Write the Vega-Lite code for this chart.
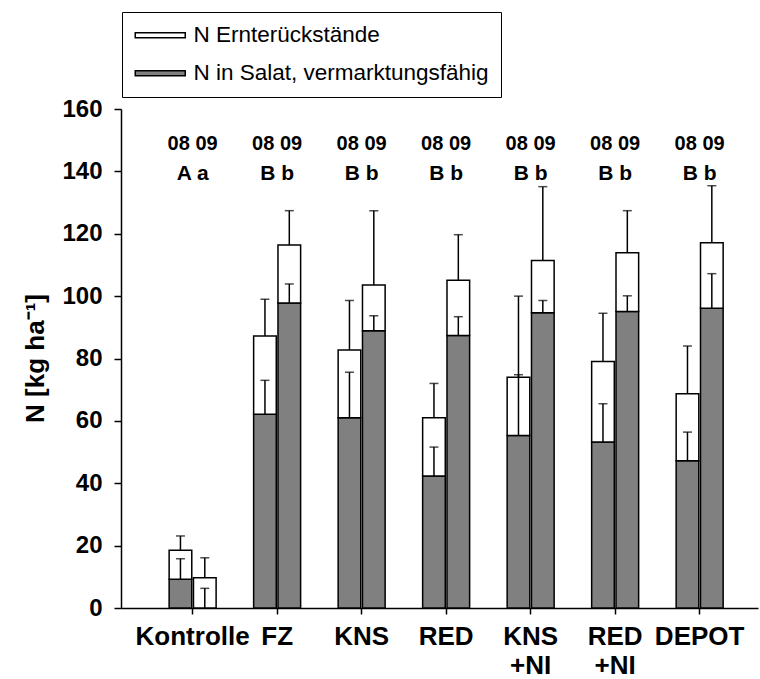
{
  "$schema": "https://vega.github.io/schema/vega-lite/v6.json",
  "width": 637,
  "height": 499,
  "autosize": {"type": "none"},
  "padding": {"left": 121, "top": 109, "right": 2, "bottom": 71},
  "background": "white",
  "config": {
    "font": "Liberation Sans",
    "view": {"stroke": null},
    "axis": {"grid": false, "domainColor": "black", "tickColor": "black", "labelColor": "black", "titleColor": "black", "domainWidth": 1.5, "tickWidth": 1.5}
  },
  "datasets": {
    "bars": [
      {"g": "Kontrolle", "yr": "08", "salat": 9.2, "total": 18.5, "salatErr": 15.8, "totalErr": 23.1},
      {"g": "Kontrolle", "yr": "09", "salat": 0, "total": 9.7, "salatErr": 6.3, "totalErr": 16.1},
      {"g": "FZ", "yr": "08", "salat": 62.1, "total": 87.2, "salatErr": 73.0, "totalErr": 99.0},
      {"g": "FZ", "yr": "09", "salat": 97.8, "total": 116.4, "salatErr": 103.9, "totalErr": 127.4},
      {"g": "KNS", "yr": "08", "salat": 61.0, "total": 82.7, "salatErr": 75.6, "totalErr": 98.6},
      {"g": "KNS", "yr": "09", "salat": 88.9, "total": 103.6, "salatErr": 93.7, "totalErr": 127.4},
      {"g": "RED", "yr": "08", "salat": 42.3, "total": 61.0, "salatErr": 51.6, "totalErr": 72.0},
      {"g": "RED", "yr": "09", "salat": 87.4, "total": 105.1, "salatErr": 93.4, "totalErr": 119.7},
      {"g": "KNS +NI", "yr": "08", "salat": 55.3, "total": 74.0, "salatErr": 74.8, "totalErr": 100.0},
      {"g": "KNS +NI", "yr": "09", "salat": 94.7, "total": 111.4, "salatErr": 98.6, "totalErr": 135.1},
      {"g": "RED +NI", "yr": "08", "salat": 53.2, "total": 79.0, "salatErr": 65.5, "totalErr": 94.5},
      {"g": "RED +NI", "yr": "09", "salat": 95.1, "total": 113.9, "salatErr": 100.1, "totalErr": 127.4},
      {"g": "DEPOT", "yr": "08", "salat": 47.2, "total": 68.7, "salatErr": 56.4, "totalErr": 84.0},
      {"g": "DEPOT", "yr": "09", "salat": 96.1, "total": 117.1, "salatErr": 107.2, "totalErr": 135.4}
    ],
    "notes": [
      {"g": "Kontrolle", "yrs": "08 09", "sig": "A a"},
      {"g": "FZ", "yrs": "08 09", "sig": "B b"},
      {"g": "KNS", "yrs": "08 09", "sig": "B b"},
      {"g": "RED", "yrs": "08 09", "sig": "B b"},
      {"g": "KNS +NI", "yrs": "08 09", "sig": "B b"},
      {"g": "RED +NI", "yrs": "08 09", "sig": "B b"},
      {"g": "DEPOT", "yrs": "08 09", "sig": "B b"}
    ]
  },
  "encoding": {
    "x": {
      "field": "g",
      "type": "nominal",
      "sort": ["Kontrolle", "FZ", "KNS", "RED", "KNS +NI", "RED +NI", "DEPOT"],
      "scale": {"paddingInner": 0.444, "paddingOuter": 0.491, "align": 0.58},
      "axis": {
        "title": null,
        "labelAngle": 0,
        "labelFontSize": 26,
        "labelFontWeight": "bold",
        "labelExpr": "split(datum.label, ' ')",
        "labelLineHeight": 29,
        "labelBaseline": "top",
        "labelPadding": 9,
        "labelLimit": 300,
        "tickSize": 6
      }
    }
  },
  "layer": [
    {
      "data": {"name": "bars"},
      "mark": {"type": "bar", "stroke": "black", "strokeWidth": 1.5},
      "encoding": {
        "xOffset": {"field": "yr", "type": "nominal", "scale": {"paddingInner": 0.07}},
        "y": {
          "field": "salat",
          "type": "quantitative",
          "scale": {"domain": [0, 160], "nice": false},
          "axis": {
            "values": [0, 20, 40, 60, 80, 100, 120, 140, 160],
            "labelFontSize": 24,
            "labelFontWeight": "bold",
            "tickSize": 7,
            "labelPadding": 12,
            "title": "N [kg ha⁻¹]",
            "titleFontSize": 26,
            "titleFontWeight": "bold",
            "titleAngle": -90,
            "titleX": -86,
            "titleY": 249,
            "titleAlign": "center",
            "titleBaseline": "middle"
          }
        },
        "fill": {
          "datum": "N in Salat, vermarktungsfähig",
          "scale": {"domain": ["N Ernterückstände", "N in Salat, vermarktungsfähig"], "range": ["white", "#808080"]},
          "legend": {
            "title": null,
            "orient": "none",
            "legendX": 1,
            "legendY": -97,
            "strokeColor": "black",
            "fillColor": "white",
            "padding": 12,
            "labelFontSize": 22.5,
            "labelColor": "black",
            "labelLimit": 500,
            "labelOffset": 22,
            "symbolOffset": 15,
            "rowPadding": 15,
            "symbolType": "M-6.25,-0.625H6.25V0.625H-6.25Z",
            "symbolSize": 64,
            "symbolStrokeColor": "black",
            "symbolStrokeWidth": 1.5,
            "symbolOpacity": 1
          }
        }
      }
    },
    {
      "data": {"name": "bars"},
      "mark": {"type": "bar", "stroke": "black", "strokeWidth": 1.5},
      "encoding": {
        "xOffset": {"field": "yr", "type": "nominal"},
        "y": {"field": "salat", "type": "quantitative"},
        "y2": {"field": "total"},
        "fill": {"datum": "N Ernterückstände"}
      }
    },
    {
      "data": {"name": "bars"},
      "mark": {"type": "rule", "color": "black", "strokeWidth": 1.5},
      "encoding": {
        "xOffset": {"field": "yr", "type": "nominal"},
        "y": {"field": "salat", "type": "quantitative"},
        "y2": {"field": "salatErr"}
      }
    },
    {
      "data": {"name": "bars"},
      "mark": {"type": "rule", "color": "black", "strokeWidth": 1.5},
      "encoding": {
        "xOffset": {"field": "yr", "type": "nominal"},
        "y": {"field": "total", "type": "quantitative"},
        "y2": {"field": "totalErr"}
      }
    },
    {
      "data": {"name": "bars"},
      "mark": {"type": "tick", "color": "black", "thickness": 1.5, "size": 9, "orient": "horizontal"},
      "encoding": {
        "xOffset": {"field": "yr", "type": "nominal"},
        "y": {"field": "salatErr", "type": "quantitative"}
      }
    },
    {
      "data": {"name": "bars"},
      "mark": {"type": "tick", "color": "black", "thickness": 1.5, "size": 9, "orient": "horizontal"},
      "encoding": {
        "xOffset": {"field": "yr", "type": "nominal"},
        "y": {"field": "totalErr", "type": "quantitative"}
      }
    },
    {
      "data": {"name": "notes"},
      "mark": {"type": "text", "fontSize": 20, "fontWeight": "bold", "color": "black", "baseline": "middle", "align": "center"},
      "encoding": {
        "y": {"datum": 148.9},
        "text": {"field": "yrs"}
      }
    },
    {
      "data": {"name": "notes"},
      "mark": {"type": "text", "fontSize": 21, "fontWeight": "bold", "color": "black", "baseline": "middle", "align": "center"},
      "encoding": {
        "y": {"datum": 139.0},
        "text": {"field": "sig"}
      }
    }
  ]
}
